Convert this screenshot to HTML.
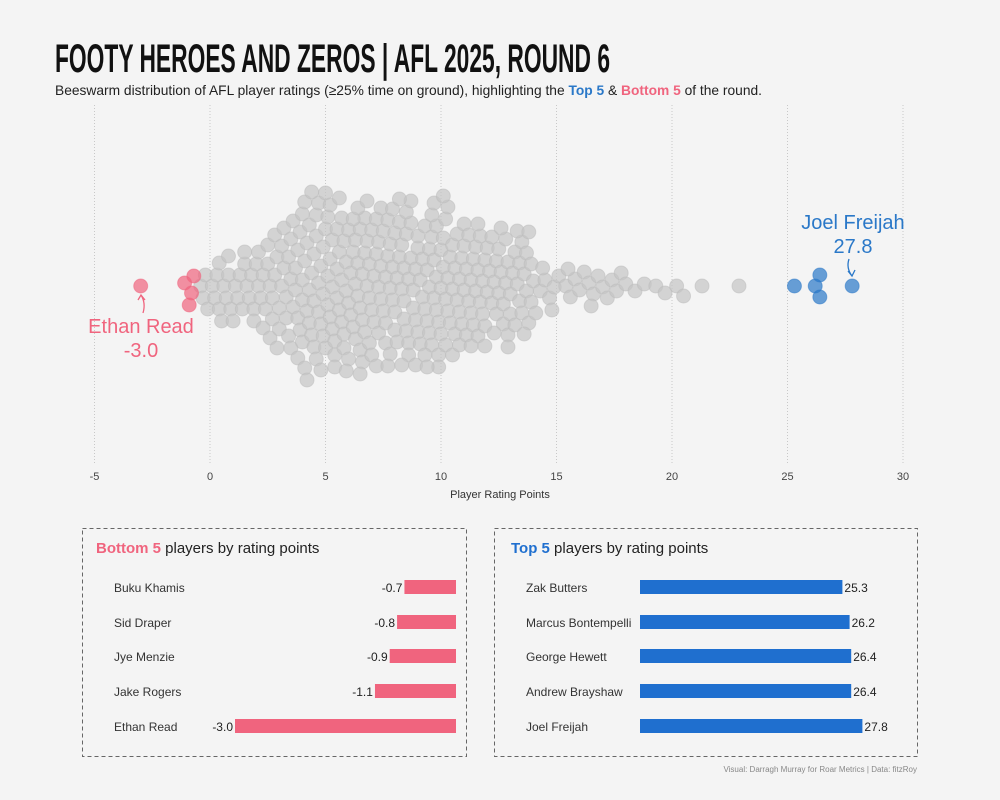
<!DOCTYPE html>
<html><head><meta charset="utf-8"><style>
html,body{margin:0;padding:0;background:#f4f4f4}
svg{display:block;font-family:"Liberation Sans",sans-serif}
</style></head><body>
<svg id="chart" width="1000" height="800" viewBox="0 0 1000 800">
<rect width="1000" height="800" fill="#f4f4f4"/>
<text x="55" y="72" font-family="'Liberation Sans',sans-serif" font-weight="bold" font-size="40" textLength="555" lengthAdjust="spacingAndGlyphs" fill="#111">FOOTY HEROES AND ZEROS |  AFL 2025, ROUND 6</text>
<text x="55" y="95" font-size="14" textLength="707" lengthAdjust="spacingAndGlyphs" fill="#222">Beeswarm distribution of AFL player ratings (≥25% time on ground), highlighting the <tspan fill="#2a78c8" font-weight="bold">Top 5</tspan> &amp; <tspan fill="#f0647e" font-weight="bold">Bottom 5</tspan> of the round.</text>
<g id="grid"></g>
<g id="dots"></g>
<g id="axis"></g>
<text x="500" y="498" font-size="11" text-anchor="middle" fill="#333">Player Rating Points</text>
<text x="853" y="229" font-size="20" text-anchor="middle" fill="#2a78c8">Joel Freijah</text>
<text x="853" y="253" font-size="20" text-anchor="middle" fill="#2a78c8">27.8</text>
<path d="M849 259 Q846 268 852 276 M848 271 L852 276 L855 270" stroke="#2a78c8" stroke-width="1.3" fill="none"/>
<text x="141" y="333" font-size="20" text-anchor="middle" fill="#f0647e">Ethan Read</text>
<text x="141" y="357" font-size="20" text-anchor="middle" fill="#f0647e">-3.0</text>
<path d="M143 313 Q146 303 141 295 M138 300 L141 295 L145 300" stroke="#f0647e" stroke-width="1.3" fill="none"/>
<rect x="82.5" y="528.5" width="384" height="228" fill="none" stroke="#666" stroke-dasharray="4,3"/>
<text x="96" y="553" font-size="15" fill="#222"><tspan fill="#f0647e" font-weight="bold">Bottom 5</tspan> players by rating points</text>
<rect x="494.5" y="528.5" width="423" height="228" fill="none" stroke="#666" stroke-dasharray="4,3"/>
<text x="511" y="553" font-size="15" fill="#222"><tspan fill="#1f6fcf" font-weight="bold">Top 5</tspan> players by rating points</text>
<g id="bars"></g>
<text x="917" y="772" font-size="8" text-anchor="end" fill="#888">Visual: Darragh Murray for Roar Metrics | Data: fitzRoy</text>
</svg>
<script>
const ticks=[-5,0,5,10,15,20,25,30];
const grayRatings=[-0.4,-0.3,-0.2,-0.1,
0.1,0.2,0.3,0.4,0.4,0.5,0.6,0.7,0.8,0.8,0.9,1.0,
1.1,1.2,1.3,1.4,1.5,1.5,1.6,1.7,1.8,1.9,1.9,2.0,
2.1,2.1,2.2,2.3,2.3,2.4,2.5,2.5,2.6,2.6,2.7,2.7,2.8,2.8,2.9,2.9,3.0,3.0,
3.1,3.1,3.2,3.2,3.3,3.3,3.4,3.4,3.5,3.5,3.5,3.6,3.6,3.7,3.7,3.8,3.8,3.8,3.9,3.9,4.0,4.0,4.0,4.0,
4.1,4.1,4.1,4.2,4.2,4.3,4.3,4.3,4.4,4.4,4.5,4.5,4.5,4.6,4.6,4.6,4.7,4.7,4.7,4.8,4.8,4.8,4.9,4.9,4.9,5.0,5.0,5.0,4.2,4.4,
5.1,5.1,5.1,5.2,5.2,5.3,5.3,5.3,5.4,5.4,5.5,5.5,5.5,5.6,5.6,5.7,5.7,5.7,5.8,5.8,5.8,5.9,5.9,6.0,6.0,6.0,5.2,5.4,5.6,5.9,
6.1,6.1,6.2,6.2,6.3,6.3,6.3,6.4,6.4,6.5,6.5,6.5,6.6,6.6,6.7,6.7,6.7,6.8,6.8,6.9,6.9,6.9,7.0,7.0,6.2,6.4,6.6,6.8,7.0,6.5,
7.1,7.1,7.2,7.2,7.3,7.3,7.3,7.4,7.4,7.5,7.5,7.6,7.6,7.6,7.7,7.7,7.8,7.8,7.8,7.9,7.9,8.0,8.0,7.2,7.4,7.7,7.9,8.0,
8.1,8.1,8.2,8.2,8.3,8.3,8.4,8.4,8.4,8.5,8.5,8.6,8.6,8.6,8.7,8.7,8.8,8.8,8.9,8.9,9.0,9.0,8.3,8.5,8.7,8.9,9.0,8.2,
9.1,9.1,9.2,9.2,9.3,9.3,9.4,9.4,9.5,9.5,9.5,9.6,9.6,9.7,9.7,9.8,9.8,9.8,9.9,9.9,10.0,10.0,9.3,9.6,9.9,10.0,9.4,9.7,
10.1,10.1,10.2,10.2,10.2,10.3,10.3,10.4,10.4,10.5,10.5,10.6,10.6,10.7,10.7,10.8,10.8,10.9,10.9,11.0,11.0,10.3,10.5,10.8,11.0,10.1,
11.1,11.1,11.2,11.2,11.3,11.3,11.4,11.4,11.5,11.5,11.6,11.6,11.7,11.7,11.8,11.8,11.9,11.9,12.0,12.0,11.3,11.6,11.9,
12.1,12.2,12.2,12.3,12.4,12.4,12.5,12.5,12.6,12.7,12.7,12.8,12.8,12.9,12.9,13.0,13.0,12.3,12.6,12.9,
13.1,13.2,13.2,13.3,13.4,13.4,13.5,13.5,13.6,13.7,13.7,13.8,13.9,13.9,14.0,13.3,13.6,13.8,
14.1,14.3,14.5,14.7,14.9,14.4,14.8,
15.1,15.4,15.6,15.8,16.0,15.5,
16.2,16.4,16.6,16.8,17.0,16.5,
17.2,17.4,17.6,17.8,18.0,
18.4,18.8,19.3,19.7,20.2,20.5,21.3,22.9];
const bottomNames=["Buku Khamis","Sid Draper","Jye Menzie","Jake Rogers","Ethan Read"];
const bottomValues=[-0.7,-0.8,-0.9,-1.1,-3.0];
const topNames=["Zak Butters","Marcus Bontempelli","George Hewett","Andrew Brayshaw","Joel Freijah"];
const topValues=[25.3,26.2,26.4,26.4,27.8];

const NS="http://www.w3.org/2000/svg";
function mk(tag,attrs,parent){const e=document.createElementNS(NS,tag);for(const k in attrs)e.setAttribute(k,attrs[k]);parent.appendChild(e);return e;}
const x=v=>210+(v)*(693/30);
const cy=286;
const grid=document.getElementById('grid'),axis=document.getElementById('axis'),dots=document.getElementById('dots'),bars=document.getElementById('bars');
ticks.forEach(t=>{
  const l=mk('line',{x1:x(t),x2:x(t),y1:105,y2:463,stroke:'#c8c8c8','stroke-dasharray':'1,2'},grid);
  
  
  const tx=mk('text',{x:x(t),y:480,'font-size':11,'text-anchor':'middle',fill:'#444'},axis);
  tx.textContent=t;
  
  
});
// beeswarm layout
const all=[];
grayRatings.forEach(v=>all.push({v,c:'gray'}));
bottomValues.forEach(v=>all.push({v,c:'bottom'}));
topValues.forEach(v=>all.push({v,c:'top'}));
const placed=[];const D=11.5;
all.forEach(p=>{
  const px=x(p.v);let best=null;
  for(let k=0;k<400;k++){
    const off=Math.ceil(k/2)*(k%2?1:-1);
    const y=cy+off;
    if(placed.every(q=>(q.x-px)**2+(q.y-y)**2>=D*D)){best=y;break;}
  }
  if(best===null)best=cy;
  placed.push({x:px,y:best,c:p.c});
});
placed.forEach(p=>{
  const fill=p.c==='gray'?'#c4c4c4':p.c==='top'?'#2a78c8':'#f0647e';
  const c=mk('circle',{cx:p.x,cy:p.y,r:7,fill:fill,'fill-opacity':0.7,stroke:p.c==='gray'?'#bbb':fill,'stroke-opacity':0.5},dots);
  
  
});
const rows=[587,622,656,691,726];
const bscale=v=>Math.abs(v)*(221/3);
bottomNames.forEach((n,i)=>{
  const t=mk('text',{x:114,y:rows[i]+5,'font-size':12,fill:'#333'},bars);t.textContent=n;
  
  
  const w=bscale(bottomValues[i]);
  const r=mk('rect',{x:456-w,y:rows[i]-7,width:w,height:14,fill:'#f0647e'},bars);
  
  
  const vt=mk('text',{x:456-w-2,y:rows[i]+5,'font-size':12,'text-anchor':'end',fill:'#222'},bars);vt.textContent=bottomValues[i].toFixed(1);
  
  
});
const tscale=v=>v*8;
topNames.forEach((n,i)=>{
  const t=mk('text',{x:526,y:rows[i]+5,'font-size':12,fill:'#333'},bars);t.textContent=n;
  
  
  const w=tscale(topValues[i]);
  const r=mk('rect',{x:640,y:rows[i]-7,width:w,height:14,fill:'#1f6fcf'},bars);
  
  
  const vt=mk('text',{x:640+w+2,y:rows[i]+5,'font-size':12,fill:'#222'},bars);vt.textContent=topValues[i].toFixed(1);
  
  
});
</script>
</body></html>
